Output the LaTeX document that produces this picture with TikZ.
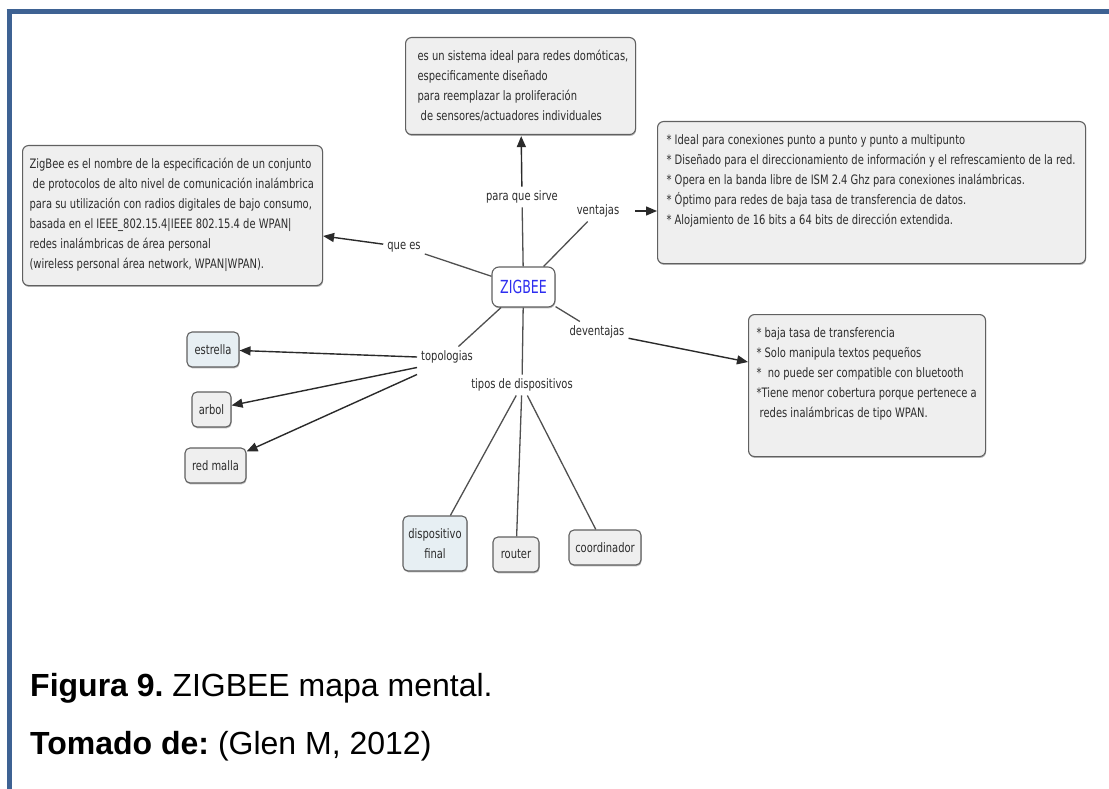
\documentclass[tikz,border=0pt]{standalone}
\usepackage{fontspec}
\setmainfont{Liberation Sans}
\newfontfamily\cmf[FakeStretch=0.765]{DejaVu Sans}
\newfontfamily\cmz[FakeStretch=0.7]{DejaVu Sans}
\usetikzlibrary{arrows.meta,shadows}
\frenchspacing
\definecolor{frameblue}{HTML}{3E6293}
\definecolor{boxfill}{HTML}{EFEFEF}
\definecolor{bluefill}{HTML}{E7EFF3}
\definecolor{boxline}{HTML}{606060}
\definecolor{txtc}{HTML}{2C2C2C}
\definecolor{zblue}{HTML}{2E2EF0}
\definecolor{connc}{HTML}{505050}
\definecolor{arrc}{HTML}{2A2A2A}
\newcommand\cmtext[3]{\begin{minipage}[c][#2][t]{#1}\begin{tabular}[t]{@{}l@{}}#3\end{tabular}\end{minipage}}
\begin{document}
\begin{tikzpicture}[x=1pt,y=-1pt,
  font=\cmf\fontsize{13}{20}\selectfont,
  every node/.style={text=txtc},
  bshadow/.style={drop shadow={shadow xshift=0.6pt,shadow yshift=-1.4pt,fill=black!50,opacity=0.55}},
  cbox/.style={draw=boxline, line width=1.1pt, fill=boxfill, rounded corners=6pt,
    anchor=north west, inner xsep=#1, inner ysep=9pt, bshadow},
  sbox/.style={draw=boxline, line width=1.1pt, fill=boxfill, rounded corners=5pt,
    inner sep=2pt, align=center, bshadow},
  link/.style={inner sep=4pt},
  conn/.style={draw=connc, line width=1.3pt},
  arr/.style={draw=arrc, line width=1.4pt, -{Triangle[length=11pt,width=9pt]}}
]
\useasboundingbox (0,0) rectangle (1109,789);
\fill[white] (0,0) rectangle (1109,789);
% frame
\draw[frameblue, line width=5pt] (6.5,12) -- (1109,12);
\draw[frameblue, line width=5pt] (9,9.5) -- (9,789);

% concept boxes
\node[cbox=12pt] (top) at (405,37) {\cmtext{206pt}{79pt}{es un sistema ideal para redes domóticas,\\ especificamente diseñado\\ para reemplazar la proliferación\\ \ de sensores/actuadores individuales}};
\node[cbox=7pt] (lbox) at (22,145) {\cmtext{286pt}{122pt}{ZigBee es el nombre de la especificación de un conjunto\\ \ de protocolos de alto nivel de comunicación inalámbrica\\ para su utilización con radios digitales de bajo consumo,\\ basada en el IEEE\_802.15.4|IEEE 802.15.4 de WPAN|\\ redes inalámbricas de área personal\\ (wireless personal área network, WPAN|WPAN).}};
\node[cbox=9pt] (rbox) at (657,121) {\cmtext{410pt}{124pt}{* Ideal para conexiones punto a punto y punto a multipunto\\{}* Diseñado para el direccionamiento de información y el refrescamiento de la red.\\{}* Opera en la banda libre de ISM 2.4 Ghz para conexiones inalámbricas.\\{}* Óptimo para redes de baja tasa de transferencia de datos.\\{}* Alojamiento de 16 bits a 64 bits de dirección extendida.}};
\node[cbox=8pt] (dbox) at (748,314) {\cmtext{221pt}{124pt}{* baja tasa de transferencia\\{}* Solo manipula textos pequeños\\{}* \ no puede ser compatible con bluetooth\\{}*Tiene menor cobertura porque pertenece a\\ \ redes inalámbricas de tipo WPAN.}};

% central node
\node[draw=boxline, line width=1.1pt, fill=white, rounded corners=7pt, minimum width=63pt, minimum height=40pt, inner sep=2pt, text=zblue, font=\cmz\fontsize{18}{20}\selectfont, bshadow] (Z) at (523.5,287) {ZIGBEE};

% small concept nodes
\node[sbox, fill=bluefill, minimum width=52pt, minimum height=35pt] (estrella) at (213,349.5) {estrella};
\node[sbox, minimum width=39pt, minimum height=35pt] (arbol) at (211.5,409.5) {arbol};
\node[sbox, minimum width=61pt, minimum height=35pt] (malla) at (215.5,465.5) {red malla};
\node[sbox, fill=bluefill, minimum width=64pt, minimum height=55pt] (dfinal) at (435,543.5) {dispositivo\\final};
\node[sbox, minimum width=46pt, minimum height=35pt] (router) at (516,554.5) {router};
\node[sbox, minimum width=72pt, minimum height=35pt] (coord) at (605,547.5) {coordinador};

% linking phrases
\node[link] (sirve) at (522,197) {para que sirve};
\node[link] (vent) at (598,211) {ventajas};
\node[link] (quees) at (404,247) {que es};
\node[link] (dev) at (597,332) {deventajas};
\node[link] (topo) at (447,357) {topologias};
\node[link] (tipos) at (522,385) {tipos de dispositivos};

% connectors
\draw[conn] (Z) -- (sirve);
\draw[arr, shorten >=1pt] (sirve) -- (top);
\draw[conn] (Z) -- (vent);
\draw[arr, shorten <=12pt] (vent.east) -- (vent.east -| rbox.west);
\draw[conn] (Z) -- (quees);
\draw[arr] (quees) -- (lbox);
\draw[conn] (Z) -- (dev);
\draw[arr] (dev) -- (dbox);
\draw[conn] (Z) -- (topo);
\draw[arr] (topo.west) -- (estrella);
\draw[arr] (topo.south west) -- (arbol);
\draw[arr] ([yshift=-7pt]topo.south west) -- (malla);
\draw[conn] (Z) -- (tipos);
\draw[conn] (tipos) -- (dfinal);
\draw[conn] (tipos) -- (router);
\draw[conn] (tipos) -- (coord);

% caption
\node[anchor=base west, inner sep=0, text=black, font=\rmfamily\fontsize{32}{38}\selectfont] (cap1) at (30,696) {\textbf{Figura 9.} ZIGBEE mapa mental.};
\node[anchor=base west, inner sep=0, text=black, font=\rmfamily\fontsize{32}{38}\selectfont] (cap2) at (30,754) {\textbf{Tomado de:} (Glen M, 2012)};
\end{tikzpicture}
\end{document}
